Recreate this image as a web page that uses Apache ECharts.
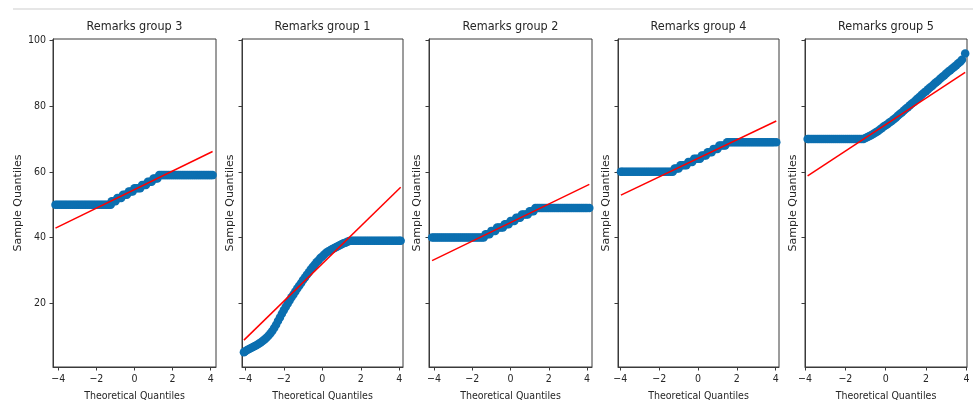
<!DOCTYPE html>
<html>
<head>
<meta charset="utf-8">
<script src="https://cdn.jsdelivr.net/npm/echarts@6/dist/echarts.min.js"></script>
<style>
  html, body { margin: 0; padding: 0; background: #ffffff; }
  #chart { width: 973px; height: 407px; }
</style>
</head>
<body>
<div id="chart"></div>
<script>
// ---- panel titles (left to right) ----
const titles = ['Remarks group 3', 'Remarks group 1', 'Remarks group 2', 'Remarks group 4', 'Remarks group 5'];

// ---- tick labels ----
const xTicks = [-4, -2, 0, 2, 4];
const yTicks = [20, 40, 60, 80, 100];

// ---- sample quantiles vs theoretical quantiles [theoretical, sample] ----
const g3 = [[-4.15,50],[-4.05,50],[-3.95,50],[-3.85,50],[-3.75,50],[-3.65,50],[-3.55,50],[-3.45,50],[-3.35,50],[-3.25,50],[-3.15,50],[-3.05,50],[-2.95,50],[-2.85,50],[-2.75,50],[-2.65,50],[-2.55,50],[-2.45,50],[-2.35,50],[-2.25,50],[-2.15,50],[-2.05,50],[-1.95,50],[-1.85,50],[-1.75,50],[-1.65,50],[-1.55,50],[-1.45,50],[-1.35,50],[-1.25,50],[-1.2,51],[-1.1,51],[-1.0,51],[-0.9,52],[-0.8,52],[-0.7,52],[-0.6,53],[-0.5,53],[-0.4,53],[-0.3,54],[-0.2,54],[-0.1,54],[0,55],[0.1,55],[0.2,55],[0.3,55],[0.4,56],[0.5,56],[0.6,56],[0.7,57],[0.8,57],[0.9,57],[1.0,58],[1.1,58],[1.2,58],[1.3,59],[1.4,59],[1.5,59],[1.6,59],[1.7,59],[1.8,59],[1.9,59],[2.0,59],[2.1,59],[2.2,59],[2.3,59],[2.4,59],[2.5,59],[2.6,59],[2.7,59],[2.8,59],[2.9,59],[3.0,59],[3.1,59],[3.2,59],[3.3,59],[3.4,59],[3.5,59],[3.6,59],[3.7,59],[3.8,59],[3.9,59],[4.0,59],[4.1,59]];
const g1 = [[-4.07,5.0],[-4.0,5.3],[-3.9,5.7],[-3.8,6.0],[-3.7,6.3],[-3.6,6.6],[-3.5,6.9],[-3.4,7.2],[-3.3,7.6],[-3.2,8.0],[-3.1,8.4],[-3.0,8.9],[-2.9,9.4],[-2.8,10.0],[-2.7,10.7],[-2.6,11.5],[-2.5,12.4],[-2.4,13.4],[-2.3,14.5],[-2.2,15.6],[-2.1,16.7],[-2.0,17.8],[-1.9,18.8],[-1.8,19.8],[-1.7,20.8],[-1.6,21.8],[-1.5,22.6],[-1.4,23.5],[-1.3,24.4],[-1.2,25.3],[-1.1,26.1],[-1.0,27.0],[-0.9,27.8],[-0.8,28.6],[-0.7,29.4],[-0.6,30.2],[-0.5,31.0],[-0.4,31.7],[-0.3,32.4],[-0.2,33.0],[-0.1,33.7],[0,34.2],[0.1,34.8],[0.2,35.3],[0.3,35.7],[0.4,36.0],[0.5,36.4],[0.6,36.7],[0.7,37.0],[0.8,37.3],[0.9,37.6],[1.0,37.9],[1.1,38.2],[1.2,38.4],[1.3,38.7],[1.4,38.9],[1.5,39],[1.6,39],[1.7,39],[1.8,39],[1.9,39],[2.0,39],[2.1,39],[2.2,39],[2.3,39],[2.4,39],[2.5,39],[2.6,39],[2.7,39],[2.8,39],[2.9,39],[3.0,39],[3.1,39],[3.2,39],[3.3,39],[3.4,39],[3.5,39],[3.6,39],[3.7,39],[3.8,39],[3.9,39],[4.0,39],[4.07,39]];
const g2 = [[-4.1,40],[-4.0,40],[-3.9,40],[-3.8,40],[-3.7,40],[-3.6,40],[-3.5,40],[-3.4,40],[-3.3,40],[-3.2,40],[-3.1,40],[-3.0,40],[-2.9,40],[-2.8,40],[-2.7,40],[-2.6,40],[-2.5,40],[-2.4,40],[-2.3,40],[-2.2,40],[-2.1,40],[-2.0,40],[-1.9,40],[-1.8,40],[-1.7,40],[-1.6,40],[-1.5,40],[-1.4,40],[-1.3,41],[-1.2,41],[-1.1,41],[-1.0,42],[-0.9,42],[-0.8,42],[-0.7,43],[-0.6,43],[-0.5,43],[-0.4,43],[-0.3,44],[-0.2,44],[-0.1,44],[0,45],[0.1,45],[0.2,45],[0.3,46],[0.4,46],[0.5,46],[0.6,47],[0.7,47],[0.8,47],[0.9,47],[1.0,48],[1.1,48],[1.2,48],[1.3,49],[1.4,49],[1.5,49],[1.6,49],[1.7,49],[1.8,49],[1.9,49],[2.0,49],[2.1,49],[2.2,49],[2.3,49],[2.4,49],[2.5,49],[2.6,49],[2.7,49],[2.8,49],[2.9,49],[3.0,49],[3.1,49],[3.2,49],[3.3,49],[3.4,49],[3.5,49],[3.6,49],[3.7,49],[3.8,49],[3.9,49],[4.0,49],[4.12,49]];
const g4 = [[-3.97,60],[-3.9,60],[-3.8,60],[-3.7,60],[-3.6,60],[-3.5,60],[-3.4,60],[-3.3,60],[-3.2,60],[-3.1,60],[-3.0,60],[-2.9,60],[-2.8,60],[-2.7,60],[-2.6,60],[-2.5,60],[-2.4,60],[-2.3,60],[-2.2,60],[-2.1,60],[-2.0,60],[-1.9,60],[-1.8,60],[-1.7,60],[-1.6,60],[-1.5,60],[-1.4,60],[-1.3,60],[-1.2,61],[-1.1,61],[-1.0,61],[-0.9,62],[-0.8,62],[-0.7,62],[-0.6,62],[-0.5,63],[-0.4,63],[-0.3,63],[-0.2,64],[-0.1,64],[0,64],[0.1,64],[0.2,65],[0.3,65],[0.4,65],[0.5,66],[0.6,66],[0.7,66],[0.8,67],[0.9,67],[1.0,67],[1.1,68],[1.2,68],[1.3,68],[1.4,68],[1.5,69],[1.6,69],[1.7,69],[1.8,69],[1.9,69],[2.0,69],[2.1,69],[2.2,69],[2.3,69],[2.4,69],[2.5,69],[2.6,69],[2.7,69],[2.8,69],[2.9,69],[3.0,69],[3.1,69],[3.2,69],[3.3,69],[3.4,69],[3.5,69],[3.6,69],[3.7,69],[3.8,69],[3.9,69],[4.03,69]];
const g5 = [[-3.87,70],[-3.8,70],[-3.7,70],[-3.6,70],[-3.5,70],[-3.4,70],[-3.3,70],[-3.2,70],[-3.1,70],[-3.0,70],[-2.9,70],[-2.8,70],[-2.7,70],[-2.6,70],[-2.5,70],[-2.4,70],[-2.3,70],[-2.2,70],[-2.1,70],[-2.0,70],[-1.9,70],[-1.8,70],[-1.7,70],[-1.6,70],[-1.5,70],[-1.4,70],[-1.3,70],[-1.2,70],[-1.1,70],[-1.0,70.3],[-0.9,70.6],[-0.8,70.9],[-0.7,71.2],[-0.6,71.6],[-0.5,72.0],[-0.4,72.4],[-0.3,72.8],[-0.2,73.3],[-0.1,73.8],[0,74.2],[0.1,74.6],[0.2,75.1],[0.3,75.5],[0.4,76.0],[0.5,76.5],[0.6,77.1],[0.7,77.6],[0.8,78.1],[0.9,78.7],[1.0,79.2],[1.1,79.7],[1.2,80.3],[1.3,80.8],[1.4,81.3],[1.5,81.9],[1.6,82.4],[1.7,83.0],[1.8,83.6],[1.9,84.1],[2.0,84.6],[2.1,85.2],[2.2,85.7],[2.3,86.2],[2.4,86.8],[2.5,87.3],[2.6,87.8],[2.7,88.4],[2.8,88.9],[2.9,89.4],[3.0,90.0],[3.1,90.5],[3.2,91.0],[3.3,91.5],[3.4,92.0],[3.5,92.5],[3.6,93.1],[3.7,93.6],[3.78,94.2],[3.94,96.1]];

// ---- fitted reference lines (endpoints) ----
const l3 = [[-4.15,42.85],[4.1,66.2]];
const l1 = [[-4.07,8.7],[4.07,55.3]];
const l2 = [[-4.1,32.95],[4.12,56.2]];
const l4 = [[-3.97,52.9],[4.03,75.5]];
const l5 = [[-3.87,58.8],[3.94,90.3]];

const samples = [g3, g1, g2, g4, g5];
const fits = [l3, l1, l2, l4, l5];

// ---- axis extents per panel ----
const xMin = [-4.28, -4.17, -4.26, -4.12, -4.0];
const xMax = [4.28, 4.19, 4.26, 4.17, 4.03];
const yMin = 0.5, yMax = 100.5;

// ---- layout ----
const gridLeft = [53, 242, 429, 618, 805];
const gridWidth = [163, 161, 163, 161, 162];
const gridTop = 39, gridHeight = 331;

const condensed = "'DejaVu Sans Condensed', 'Liberation Sans Narrow', 'DejaVu Sans', sans-serif";
const normalFont = "'DejaVu Sans', sans-serif";
const txt = '#262626';
const axisCol = '#3a3a3a';
const blue = '#0b6fb0';

const fmtMinus = v => (v < 0 ? '\u2212' + (-v) : String(v));

const grids = [], xAxes = [], yAxes = [], series = [], titleArr = [];
for (let i = 0; i < 5; i++) {
  grids.push({
    left: gridLeft[i], top: gridTop, width: gridWidth[i], height: gridHeight,
    show: true, borderColor: axisCol, borderWidth: 1, backgroundColor: 'transparent',
    containLabel: false
  });
  xAxes.push({
    type: 'value', gridIndex: i, min: xMin[i], max: xMax[i],
    axisLine: { show: true, onZero: false, lineStyle: { color: axisCol, width: 1 } },
    axisTick: { show: true, length: 3.5, customValues: xTicks, lineStyle: { color: axisCol } },
    axisLabel: { show: true, customValues: xTicks, formatter: fmtMinus, margin: 7,
      color: txt, fontSize: 10.5, fontFamily: condensed },
    splitLine: { show: false },
    name: 'Theoretical Quantiles', nameLocation: 'middle', nameGap: 24,
    nameTextStyle: { color: txt, fontSize: 10.5, fontFamily: condensed }
  });
  yAxes.push({
    type: 'value', gridIndex: i, min: yMin, max: yMax,
    axisLine: { show: true, onZero: false, lineStyle: { color: axisCol, width: 1 } },
    axisTick: { show: true, length: 3.5, customValues: yTicks, lineStyle: { color: axisCol } },
    axisLabel: { show: i === 0, customValues: yTicks, margin: 7,
      color: txt, fontSize: 10.5, fontFamily: condensed },
    splitLine: { show: false },
    name: 'Sample Quantiles', nameLocation: 'middle', nameRotate: 90,
    nameGap: i === 0 ? 26 : 6,
    nameTextStyle: { color: txt, fontSize: 11, fontFamily: normalFont }
  });
  titleArr.push({
    text: titles[i], left: gridLeft[i] + gridWidth[i] / 2, top: 20, textAlign: 'center', padding: 0,
    textStyle: { color: txt, fontSize: 12.5, fontWeight: 'normal', fontFamily: condensed }
  });
  series.push({
    type: 'scatter', xAxisIndex: i, yAxisIndex: i, data: samples[i],
    symbol: 'circle', symbolSize: 8.5, itemStyle: { color: blue, opacity: 1 },
    z: 2, silent: true
  });
  series.push({
    type: 'line', xAxisIndex: i, yAxisIndex: i, data: fits[i],
    symbol: 'none', lineStyle: { color: '#ff0000', width: 1.5 }, z: 3, silent: true
  });
}

const chart = echarts.init(document.getElementById('chart'), null, { renderer: 'canvas' });
chart.setOption({
  animation: false,
  backgroundColor: '#ffffff',
  title: titleArr,
  grid: grids,
  xAxis: xAxes,
  yAxis: yAxes,
  series: series,
  graphic: [{
    type: 'rect', shape: { x: 13, y: 8, width: 960, height: 2 },
    style: { fill: '#e6e6e6' }, silent: true
  }]
});
</script>
</body>
</html>
